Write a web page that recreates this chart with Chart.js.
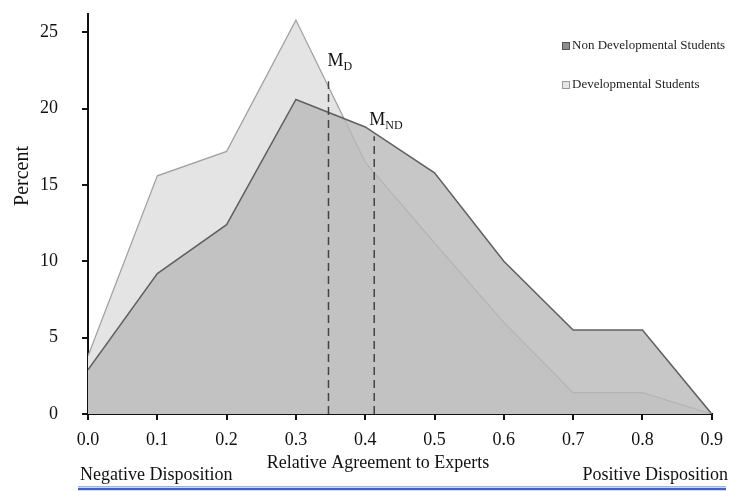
<!DOCTYPE html>
<html lang="en">
<head>
    <meta charset="UTF-8">
    <title>Relative Agreement to Experts</title>
    <script src="https://cdn.jsdelivr.net/npm/chart.js"></script>
    <style>
        html, body { margin: 0; padding: 0; background: #fff; overflow: hidden; }
        #box { width: 732px; height: 491px; position: relative; }
    </style>
</head>
<body>
<div id="box"><canvas id="grafico"></canvas></div>

<script>
    // valores
    const posicoes = [0.0, 0.1, 0.2, 0.3, 0.4, 0.5, 0.6, 0.7, 0.8, 0.9];
    const naoDesenvolvimento = [2.9, 9.2, 12.4, 20.6, 18.8, 15.8, 10.0, 5.5, 5.5, 0];
    const desenvolvimento = [3.8, 15.6, 17.2, 25.8, 16.5, 11.2, 6.0, 1.4, 1.4, 0];
    const ticksY = [0, 5, 10, 15, 20, 25];
    const mediaD = 0.347;
    const mediaND = 0.413;
    const topoMediaD = 21.8;
    const topoMediaND = 18.2;
    const rotulos = ['Non Developmental Students', 'Developmental Students'];

    const serif = "'Liberation Serif', 'DejaVu Serif', serif";

    function pontos(valores) {
        return posicoes.map((x, i) => ({ x: x, y: valores[i] }));
    }

    // textos extras: Percent, M_D, M_ND, legenda, disposicoes e a linha azul
    const extras = {
        id: 'extras',
        afterDraw(chart) {
            const ctx = chart.ctx;
            const sx = chart.scales.x;
            const sy = chart.scales.y;
            ctx.save();
            ctx.fillStyle = '#111';

            // titulo do eixo y (fica mais alto que o centro no original)
            ctx.save();
            ctx.translate(23, 176);
            ctx.rotate(-Math.PI / 2);
            ctx.font = '20px ' + serif;
            ctx.textAlign = 'center';
            ctx.textBaseline = 'middle';
            ctx.fillText('Percent', 0, 0);
            ctx.restore();

            ctx.textBaseline = 'alphabetic';
            ctx.textAlign = 'left';

            function subscrito(base, sub, x, y) {
                ctx.font = '18px ' + serif;
                ctx.fillText(base, x, y);
                const w = ctx.measureText(base).width;
                ctx.font = '12px ' + serif;
                ctx.fillText(sub, x + w, y + 4);
            }
            subscrito('M', 'D', sx.getPixelForValue(mediaD) - 1, sy.getPixelForValue(topoMediaD) - 15);
            subscrito('M', 'ND', sx.getPixelForValue(mediaND) - 5, sy.getPixelForValue(topoMediaND) - 11);

            // legenda
            ctx.font = '13px ' + serif;
            const cores = [['#8e8e8e', '#555'], ['#e6e6e6', '#999']];
            rotulos.forEach((r, i) => {
                const y = 46 + i * 39;
                ctx.fillStyle = cores[i][0];
                ctx.fillRect(562, y - 4, 8, 8);
                ctx.strokeStyle = cores[i][1];
                ctx.lineWidth = 1;
                ctx.strokeRect(562.5, y - 3.5, 7, 7);
                ctx.fillStyle = '#222';
                ctx.textBaseline = 'middle';
                ctx.fillText(r, 572, y);
            });

            ctx.textBaseline = 'alphabetic';
            ctx.font = '18px ' + serif;
            ctx.fillStyle = '#111';
            ctx.textAlign = 'center';
            ctx.fillText('Relative Agreement to Experts', 378, 468);
            ctx.textAlign = 'left';
            ctx.fillText('Negative Disposition', 80, 480);
            ctx.textAlign = 'right';
            ctx.fillText('Positive Disposition', 728, 480);

            ctx.strokeStyle = '#9fb3e6';
            ctx.lineWidth = 1;
            ctx.beginPath();
            ctx.moveTo(78, 486.5);
            ctx.lineTo(726, 486.5);
            ctx.stroke();
            ctx.strokeStyle = '#3d63c9';
            ctx.lineWidth = 2.5;
            ctx.beginPath();
            ctx.moveTo(78, 489);
            ctx.lineTo(726, 489);
            ctx.stroke();
            ctx.restore();
        }
    };

    const config = {
        type: 'line',
        data: {
            datasets: [{
                label: rotulos[0],
                data: pontos(naoDesenvolvimento),
                borderColor: '#606060',
                borderWidth: 1.5,
                backgroundColor: 'rgba(185, 185, 185, 0.8)',
                fill: 'origin',
                pointRadius: 0,
                tension: 0
            }, {
                label: rotulos[1],
                data: pontos(desenvolvimento),
                borderColor: '#a0a0a0',
                borderWidth: 1.2,
                backgroundColor: '#e4e4e4',
                fill: 'origin',
                pointRadius: 0,
                tension: 0
            }, {
                label: 'M_D',
                data: [{ x: mediaD, y: 0 }, { x: mediaD, y: topoMediaD }],
                borderColor: '#444',
                borderWidth: 1.5,
                borderDash: [8, 5],
                fill: false,
                pointRadius: 0,
                order: -1
            }, {
                label: 'M_ND',
                data: [{ x: mediaND, y: 0 }, { x: mediaND, y: topoMediaND }],
                borderColor: '#444',
                borderWidth: 1.5,
                borderDash: [8, 5],
                fill: false,
                pointRadius: 0,
                order: -1
            }]
        },
        options: {
            responsive: true,
            maintainAspectRatio: false,
            animation: false,
            layout: { autoPadding: false, padding: { top: 14, right: 13, left: 0, bottom: 0 } },
            plugins: {
                legend: { display: false },
                tooltip: { enabled: false }
            },
            scales: {
                x: {
                    type: 'linear',
                    min: 0,
                    max: 0.9,
                    afterFit: (s) => {
                        s.height = 77;
                        s.paddingTop = 0;
                        s.paddingBottom = 0;
                    },
                    ticks: {
                        stepSize: 0.1,
                        color: '#111',
                        padding: 9,
                        font: { family: serif, size: 18 },
                        callback: (v) => v.toFixed(1)
                    },
                    grid: {
                        display: true,
                        drawOnChartArea: false,
                        tickLength: 6,
                        color: '#111',
                        lineWidth: 2
                    },
                    border: { color: '#111', width: 2 }
                },
                y: {
                    min: 0,
                    max: 26.2,
                    afterFit: (s) => {
                        s.width = 88;
                        s.paddingTop = 0;
                        s.paddingBottom = 0;
                    },
                    afterBuildTicks: (s) => { s.ticks = ticksY.map(v => ({ value: v })); },
                    ticks: {
                        color: '#111',
                        padding: 24,
                        font: { family: serif, size: 18 }
                    },
                    grid: {
                        display: true,
                        drawOnChartArea: false,
                        tickLength: 6,
                        color: '#111',
                        lineWidth: 2
                    },
                    border: { color: '#111', width: 2 }
                }
            }
        },
        plugins: [extras]
    };

    new Chart(document.getElementById('grafico'), config);
</script>
</body>
</html>
